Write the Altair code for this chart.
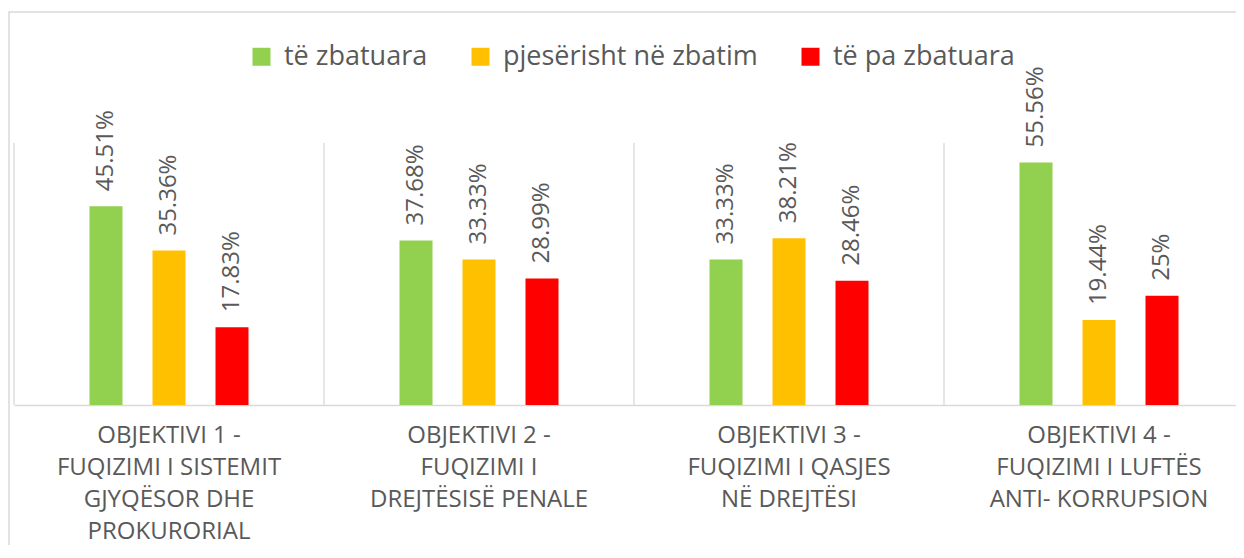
import altair as alt
import pandas as pd

categories = [
    "OBJEKTIVI 1 -\nFUQIZIMI I SISTEMIT\nGJYQËSOR DHE\nPROKURORIAL",
    "OBJEKTIVI 2 -\nFUQIZIMI I\nDREJTËSISË PENALE",
    "OBJEKTIVI 3 -\nFUQIZIMI I QASJES\nNË DREJTËSI",
    "OBJEKTIVI 4 -\nFUQIZIMI I LUFTËS\nANTI- KORRUPSION",
]
series = ["të zbatuara", "pjesërisht në zbatim", "të pa zbatuara"]
te_zbatuara = [45.51, 37.68, 33.33, 55.56]
pjeserisht = [35.36, 33.33, 38.21, 19.44]
te_pa_zbatuara = [17.83, 28.99, 28.46, 25]
colors = ["#92D050", "#FFC000", "#FF0000"]

rows = []
for s, vals in zip(series, [te_zbatuara, pjeserisht, te_pa_zbatuara]):
    for c, v in zip(categories, vals):
        rows.append({"cat": c, "series": s, "value": v, "label": f"{v:g}%"})
df = pd.DataFrame(rows)

FONT = "Open Sans"
GRAY = "#595959"
LIGHT = "#D9D9D9"
W, H = 1222, 262

xscale = alt.Scale(domain=categories, range=[0, 1240], paddingInner=0, paddingOuter=0)
offscale = alt.Scale(domain=series, range=[75.5, 234.5], paddingInner=0.476, paddingOuter=0)
yscale = alt.Scale(domain=[0, 60], nice=False)

xaxis = alt.Axis(
    title=None, labelAngle=0, ticks=False, grid=False,
    domainColor=LIGHT, domainWidth=1.5,
    labelExpr="split(datum.label, '\\n')",
    labelFont=FONT, labelFontSize=24, labelColor=GRAY,
    labelLineHeight=32, labelPadding=18, labelLimit=500,
    labelOverlap=False, labelBaseline="top",
)

frame = alt.Chart(pd.DataFrame({"k": [0]})).mark_rect(
    fill="white", fillOpacity=0, stroke=LIGHT, strokeWidth=1.5
).encode(
    x=alt.value(-5), x2=alt.value(1270), y=alt.value(-131), y2=alt.value(520)
)

sep = alt.Chart(pd.DataFrame({"cat": categories})).mark_rule(
    color=LIGHT, strokeWidth=1.3
).encode(
    x=alt.X("cat:N", bandPosition=0, scale=xscale, sort=categories, axis=xaxis),
    y=alt.value(0),
    y2=alt.value(H),
)

base = alt.Chart(df)
enc_x = alt.X("cat:N", scale=xscale, sort=categories, axis=xaxis)
enc_off = alt.XOffset("series:N", scale=offscale, sort=series)
enc_y = alt.Y("value:Q", scale=yscale, axis=None)

bars = base.mark_bar().encode(
    x=enc_x,
    xOffset=enc_off,
    y=enc_y,
    color=alt.Color(
        "series:N",
        scale=alt.Scale(domain=series, range=colors),
        sort=series,
        legend=alt.Legend(
            title=None, orient="none", legendX=234, legendY=-100,
            direction="horizontal", symbolType="square", symbolSize=324,
            symbolStrokeWidth=0, labelFont=FONT, labelFontSize=27,
            labelColor=GRAY, labelOffset=9, columnPadding=39,
            labelLimit=500,
        ),
    ),
)

labels = base.mark_text(
    angle=270, align="left", baseline="middle", dx=15,
    font=FONT, fontSize=24, color=GRAY,
).encode(
    x=enc_x, xOffset=enc_off, y=enc_y, text="label:N"
)

chart = alt.layer(frame, sep, bars, labels).properties(
    width=W, height=H,
    padding={"left": 6, "top": 135, "right": 0, "bottom": 140},
    autosize="none",
).configure_view(stroke=None)

chart.save("out.html", embed_options={"renderer": "svg", "actions": False})
